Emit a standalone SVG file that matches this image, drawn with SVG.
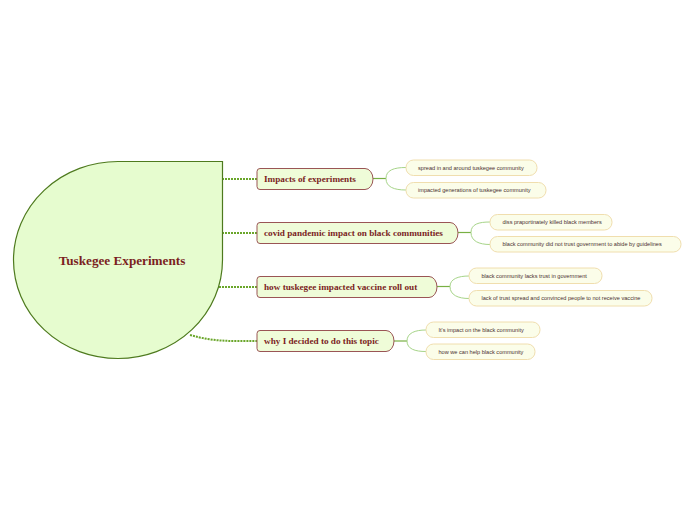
<svg xmlns="http://www.w3.org/2000/svg" width="696" height="520" viewBox="0 0 696 520">
<style>
.main{fill:#effcd8;stroke:#9a5555;stroke-width:1}
.mt{font-family:"Liberation Serif",serif;font-weight:bold;font-size:9.2px;fill:#7b1f1f}
.sub{fill:#fbfde9;stroke:#f0deae;stroke-width:1}
.st{font-family:"Liberation Sans",sans-serif;font-size:5.6px;fill:#4a3030}
.dot{fill:none;stroke:#6aa62a;stroke-width:2;stroke-dasharray:2 1}
.sc{fill:none;stroke:#a6d488;stroke-width:1}
.scm{fill:none;stroke:#78b044;stroke-width:1.2}
</style>
<rect width="696" height="520" fill="#ffffff"/>
<g id="connectors">
<path class="dot" d="M222,179 L257,179"/>
<path class="dot" d="M222,233 L257,233"/>
<path class="dot" d="M219,287 L257,287"/>
<path class="dot" d="M190,335 C215,342 230,341 257,341"/>
<path class="scm" d="M373,178.5 L386,178.5"/>
<path class="sc" d="M386,178.5 C386,170 394,167.5 406,167.5 M386,178.5 C386,187 394,190 406,190"/>
<path class="scm" d="M458,232.5 L471,232.5"/>
<path class="sc" d="M471,232.5 C471,224 479,222 490,222 M471,232.5 C471,241 479,244.5 490,244.5"/>
<path class="scm" d="M437,286.5 L450,286.5"/>
<path class="sc" d="M450,286.5 C450,279 458,276 469,276 M450,286.5 C450,295 458,298.5 469,298.5"/>
<path class="scm" d="M394,341 L407,341"/>
<path class="sc" d="M407,341 C407,333 415,330 426,330 M407,341 C407,349 415,351.5 426,351.5"/>
</g>
<g id="center">
<path d="M118,161.5 L222.5,161.5 L222.5,260 A104.5 98.5 0 1 1 118,161.5 Z" fill="#e6fccf" stroke="#4e7a1e" stroke-width="1.2"/>
<text x="122" y="265" text-anchor="middle" font-family="Liberation Serif,serif" font-weight="bold" font-size="13.2" fill="#7b1f1f">Tuskegee Experiments</text>
</g>
<g id="n1">
<path class="main" d="M260,168.5 H365 A8 10.5 0 0 1 373,179 A8 10.5 0 0 1 365,189.5 H260 A3 3 0 0 1 257,186.5 V171.5 A3 3 0 0 1 260,168.5 Z"/>
<text class="mt" x="264" y="182">Impacts of experiments</text>
</g>
<g id="n2">
<path class="main" d="M260,222.5 H450 A8 10.5 0 0 1 458,233 A8 10.5 0 0 1 450,243.5 H260 A3 3 0 0 1 257,240.5 V225.5 A3 3 0 0 1 260,222.5 Z"/>
<text class="mt" x="264" y="236">covid pandemic impact on black communities</text>
</g>
<g id="n3">
<path class="main" d="M260,276.5 H429 A8 10.5 0 0 1 437,287 A8 10.5 0 0 1 429,297.5 H260 A3 3 0 0 1 257,294.5 V279.5 A3 3 0 0 1 260,276.5 Z"/>
<text class="mt" x="264" y="290">how tuskegee impacted vaccine roll out</text>
</g>
<g id="n4">
<path class="main" d="M260,330.5 H386 A8 10.5 0 0 1 394,341 A8 10.5 0 0 1 386,351.5 H260 A3 3 0 0 1 257,348.5 V333.5 A3 3 0 0 1 260,330.5 Z"/>
<text class="mt" x="264" y="344">why I decided to do this topic</text>
</g>
<g id="n1a"><rect class="sub" x="406" y="160" width="131" height="15.5" rx="7.5"/><text class="st" x="418" y="169.8">spread in and around tuskegee community</text></g>
<g id="n1b"><rect class="sub" x="406" y="182.5" width="140" height="15.5" rx="7.5"/><text class="st" x="418" y="192.3">impacted generations of tuskegee community</text></g>
<g id="n2a"><rect class="sub" x="490" y="214.5" width="122" height="15.5" rx="7.5"/><text class="st" x="502.5" y="224.3">diss praportinately killed black members</text></g>
<g id="n2b"><rect class="sub" x="490" y="236.5" width="191" height="15.5" rx="7.5"/><text class="st" x="502.5" y="246.3">black community did not trust government to abide by guidelines</text></g>
<g id="n3a"><rect class="sub" x="469" y="268" width="133" height="15.5" rx="7.5"/><text class="st" x="481.5" y="277.8">black community lacks trust in government</text></g>
<g id="n3b"><rect class="sub" x="469" y="290.5" width="183" height="15.5" rx="7.5"/><text class="st" x="481.5" y="300.3">lack of trust spread and convinced people to not receive vaccine</text></g>
<g id="n4a"><rect class="sub" x="426" y="322" width="114" height="15.5" rx="7.5"/><text class="st" x="438.5" y="331.8">It's impact on the black community</text></g>
<g id="n4b"><rect class="sub" x="426" y="344" width="109" height="15.5" rx="7.5"/><text class="st" x="438.5" y="353.8">how we can help black community</text></g>
</svg>
